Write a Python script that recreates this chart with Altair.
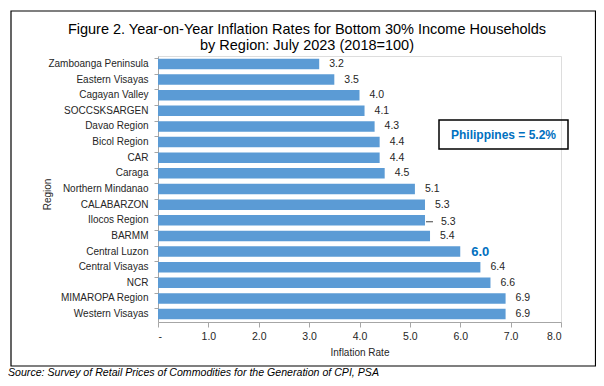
import altair as alt
import pandas as pd

regions = ["Zamboanga Peninsula", "Eastern Visayas", "Cagayan Valley", "SOCCSKSARGEN",
           "Davao Region", "Bicol Region", "CAR", "Caraga", "Northern Mindanao",
           "CALABARZON", "Ilocos Region", "BARMM", "Central Luzon", "Central Visayas",
           "NCR", "MIMAROPA Region", "Western Visayas"]
rates = [3.2, 3.5, 4.0, 4.1, 4.3, 4.4, 4.4, 4.5, 5.1, 5.3, 5.3, 5.4, 6.0, 6.4, 6.6, 6.9, 6.9]
x_ticks = [0, 1, 2, 3, 4, 5, 6, 7, 8]
highlight = "Central Luzon"
callout = "Ilocos Region"
title_lines = ["Figure 2. Year-on-Year Inflation Rates for Bottom 30% Income Households",
               "by Region: July 2023 (2018=100)"]
national_note = ["Philippines = 5.2%"]
source_note = ["Source: Survey of Retail Prices of Commodities for the Generation of CPI, PSA"]

FONT = "Liberation Sans, Arial, sans-serif"
BLUE_BAR = "#5B9BD5"
BLUE_TXT = "#0070C0"
TXT = "#262626"
AX = "#A6A6A6"

df = pd.DataFrame({"Region": regions, "Rate": rates})

x_enc = alt.X("Rate:Q", scale=alt.Scale(domain=[0, 8], nice=False),
              axis=alt.Axis(values=x_ticks, grid=False,
                            labelExpr="datum.value == 0 ? '-' : format(datum.value, '.1f')",
                            domainColor=AX, tickColor=AX, tickSize=5, labelPadding=4,
                            labelFont=FONT, labelFontSize=10.5, labelColor=TXT,
                            title="Inflation Rate", titleFont=FONT, titleFontSize=10,
                            titleFontWeight="normal", titleColor=TXT, titleY=33,
                            titleBaseline="alphabetic"))
y_enc = alt.Y("Region:N", sort=regions,
              scale=alt.Scale(paddingInner=0.33, paddingOuter=0.17),
              axis=alt.Axis(domainColor=AX, tickColor=AX, tickSize=4, labelPadding=6,
                            bandPosition=0,
                            labelFont=FONT, labelFontSize=10, labelColor=TXT,
                            title="Region", titleFont=FONT, titleFontSize=10,
                            titleFontWeight="normal", titleColor=TXT, titleAngle=270,
                            titleX=-108, titleY=138, titleBaseline="alphabetic"))

base = alt.Chart(df)

bars = base.mark_bar(color=BLUE_BAR).encode(x=x_enc, y=y_enc)

labels = base.transform_filter(
    (alt.datum.Region != highlight) & (alt.datum.Region != callout)
).mark_text(align="left", baseline="middle", dx=10, font=FONT, fontSize=10.5,
            color=TXT).encode(x="Rate:Q", y=alt.Y("Region:N", sort=regions),
                              text=alt.Text("Rate:Q", format=".1f"))

hl_label = base.transform_filter(alt.datum.Region == highlight).mark_text(
    align="left", baseline="middle", dx=11, font=FONT, fontSize=13,
    fontWeight="bold", color=BLUE_TXT).encode(
    x="Rate:Q", y=alt.Y("Region:N", sort=regions), text=alt.Text("Rate:Q", format=".1f"))

co_label = base.transform_filter(alt.datum.Region == callout).mark_text(
    align="left", baseline="middle", dx=16, dy=2, font=FONT, fontSize=10.5,
    color=TXT).encode(
    x="Rate:Q", y=alt.Y("Region:N", sort=regions), text=alt.Text("Rate:Q", format=".1f"))

co_line = base.transform_filter(alt.datum.Region == callout).mark_rule(
    color="#404040", strokeWidth=1, xOffset=1, x2Offset=8, yOffset=1.5).encode(
    x="Rate:Q", x2="Rate:Q", y=alt.Y("Region:N", sort=regions))

box_df = pd.DataFrame({"t": national_note})
box = alt.Chart(box_df).mark_rect(fill=None, stroke="black", strokeWidth=1.5).encode(
    x=alt.value(281), x2=alt.value(410), y=alt.value(64), y2=alt.value(93))
box_txt = alt.Chart(box_df).mark_text(font=FONT, fontSize=12, fontWeight="bold",
                                      color=BLUE_TXT, align="center",
                                      baseline="middle").encode(
    x=alt.value(345.5), y=alt.value(78.5), text="t:N")

frame = alt.Chart(box_df).mark_rect(fill=None, stroke="black", strokeWidth=1.2).encode(
    x=alt.value(-147), x2=alt.value(437.5), y=alt.value(-45), y2=alt.value(310))

t1 = alt.Chart(pd.DataFrame({"t": [title_lines[0]]})).mark_text(
    font=FONT, fontSize=14.5, color="black", align="center", baseline="alphabetic").encode(
    x=alt.value(149), y=alt.value(-22), text="t:N")
t2 = alt.Chart(pd.DataFrame({"t": [title_lines[1]]})).mark_text(
    font=FONT, fontSize=14.5, color="black", align="center", baseline="alphabetic").encode(
    x=alt.value(149), y=alt.value(-6), text="t:N")

src = alt.Chart(pd.DataFrame({"t": source_note})).mark_text(
    font=FONT, fontSize=10.6, fontStyle="italic", color="black", align="left",
    baseline="alphabetic").encode(x=alt.value(-150), y=alt.value(320), text="t:N")

chart = alt.layer(frame, bars, labels, hl_label, co_label, co_line, box, box_txt,
                  t1, t2, src).properties(
    width=403, height=266,
    padding={"left": 150, "top": 48, "right": 35, "bottom": 56},
    autosize=alt.AutoSizeParams(type="none"),
).configure_view(stroke=None).configure(background="white")

chart.save("out.html", embed_options={"renderer": "svg", "actions": False})
